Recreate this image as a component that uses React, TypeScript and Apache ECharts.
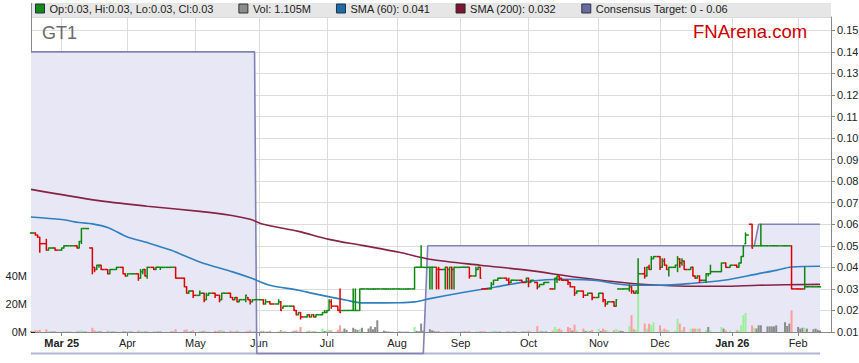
import React, { useEffect, useRef } from "react";
import * as echarts from "echarts";

type Row = [number, number, number, number, number, number]; // day, open, high, low, close, volume (M)

// ---- Daily OHLC + volume (millions), per month ----
const feb25: Row[] = [
  [17, 0.056, 0.056, 0.056, 0.056, 0.6], [18, 0.056, 0.056, 0.056, 0.056, 0.4],
  [19, 0.056, 0.056, 0.055, 0.055, 1.2], [20, 0.055, 0.055, 0.054, 0.054, 1.0],
  [21, 0.054, 0.054, 0.047, 0.051, 1.5], [24, 0.051, 0.053, 0.048, 0.048, 1.8],
  [25, 0.048, 0.049, 0.048, 0.049, 0.5], [26, 0.049, 0.049, 0.049, 0.049, 0.3],
  [27, 0.049, 0.049, 0.049, 0.049, 0.3], [28, 0.049, 0.049, 0.048, 0.048, 0.6],
];
const mar25: Row[] = [
  [3, 0.048, 0.049, 0.048, 0.049, 0.5], [4, 0.049, 0.05, 0.049, 0.05, 0.4],
  [5, 0.05, 0.05, 0.05, 0.05, 0.2], [6, 0.05, 0.05, 0.05, 0.05, 0.2],
  [7, 0.05, 0.05, 0.05, 0.05, 0.2], [10, 0.05, 0.05, 0.049, 0.049, 0.6],
  [11, 0.049, 0.052, 0.049, 0.052, 0.9], [12, 0.052, 0.058, 0.051, 0.058, 1.2],
  [13, 0.058, 0.058, 0.058, 0.058, 0.3], [14, 0.058, 0.058, 0.058, 0.058, 0.3],
  [17, 0.049, 0.049, 0.037, 0.04, 3.0], [18, 0.04, 0.04, 0.038, 0.039, 1.2],
  [19, 0.039, 0.041, 0.039, 0.041, 0.8], [20, 0.041, 0.041, 0.04, 0.041, 0.4],
  [21, 0.041, 0.041, 0.039, 0.039, 0.8], [24, 0.039, 0.039, 0.037, 0.037, 0.9],
  [25, 0.037, 0.039, 0.037, 0.039, 0.6], [26, 0.039, 0.039, 0.039, 0.039, 0.3],
  [27, 0.039, 0.039, 0.039, 0.039, 0.3], [28, 0.039, 0.04, 0.039, 0.04, 0.4],
  [31, 0.04, 0.04, 0.037, 0.037, 0.7],
];
const apr25: Row[] = [
  [1, 0.037, 0.037, 0.036, 0.036, 0.6], [2, 0.036, 0.037, 0.036, 0.037, 0.5],
  [3, 0.037, 0.037, 0.037, 0.037, 0.3], [4, 0.037, 0.037, 0.037, 0.037, 0.3],
  [7, 0.037, 0.037, 0.034, 0.035, 1.0], [8, 0.035, 0.039, 0.035, 0.038, 0.8],
  [9, 0.038, 0.039, 0.037, 0.039, 0.5], [10, 0.039, 0.039, 0.036, 0.036, 0.6],
  [11, 0.036, 0.04, 0.035, 0.04, 0.9], [14, 0.04, 0.04, 0.039, 0.039, 0.5],
  [15, 0.039, 0.04, 0.039, 0.04, 0.6], [16, 0.04, 0.04, 0.04, 0.04, 0.3],
  [17, 0.04, 0.04, 0.039, 0.04, 0.4], [22, 0.04, 0.04, 0.04, 0.04, 0.3],
  [23, 0.04, 0.04, 0.04, 0.04, 0.3], [24, 0.04, 0.04, 0.035, 0.035, 2.0],
  [28, 0.035, 0.035, 0.031, 0.031, 1.5], [29, 0.031, 0.031, 0.028, 0.028, 1.8],
  [30, 0.028, 0.029, 0.028, 0.029, 0.6],
];
const may25: Row[] = [
  [1, 0.029, 0.029, 0.029, 0.029, 0.3], [2, 0.029, 0.029, 0.026, 0.027, 1.2],
  [5, 0.027, 0.029, 0.027, 0.028, 0.7], [6, 0.028, 0.028, 0.028, 0.028, 0.4],
  [7, 0.028, 0.028, 0.024, 0.025, 1.0], [8, 0.025, 0.028, 0.025, 0.027, 0.6],
  [9, 0.027, 0.028, 0.027, 0.028, 0.4], [12, 0.028, 0.028, 0.026, 0.027, 0.8],
  [13, 0.027, 0.027, 0.027, 0.027, 0.3], [14, 0.027, 0.027, 0.024, 0.025, 1.3],
  [15, 0.025, 0.028, 0.025, 0.028, 1.5], [16, 0.028, 0.028, 0.028, 0.028, 0.4],
  [19, 0.028, 0.028, 0.026, 0.026, 1.0], [20, 0.026, 0.026, 0.025, 0.025, 0.3],
  [21, 0.025, 0.026, 0.025, 0.026, 0.5], [22, 0.026, 0.026, 0.024, 0.024, 0.9],
  [23, 0.024, 0.025, 0.024, 0.025, 0.5], [26, 0.025, 0.027, 0.024, 0.027, 0.8],
  [27, 0.026, 0.026, 0.025, 0.025, 0.6], [28, 0.025, 0.025, 0.023, 0.024, 1.2],
  [29, 0.024, 0.025, 0.024, 0.025, 0.4], [30, 0.025, 0.025, 0.025, 0.025, 0.3],
];
const jun25: Row[] = [
  [2, 0.025, 0.025, 0.025, 0.025, 0.4], [3, 0.025, 0.025, 0.023, 0.023, 0.8],
  [4, 0.023, 0.025, 0.023, 0.024, 0.5], [5, 0.024, 0.024, 0.024, 0.024, 0.3],
  [6, 0.024, 0.024, 0.023, 0.023, 0.8], [10, 0.023, 0.025, 0.023, 0.024, 0.6],
  [11, 0.024, 0.024, 0.02, 0.02, 1.5], [12, 0.021, 0.022, 0.021, 0.022, 0.6],
  [13, 0.022, 0.022, 0.022, 0.022, 0.3], [16, 0.022, 0.022, 0.022, 0.022, 0.3],
  [17, 0.022, 0.022, 0.02, 0.02, 1.0], [18, 0.02, 0.02, 0.018, 0.018, 1.2],
  [19, 0.018, 0.019, 0.018, 0.019, 0.8], [20, 0.019, 0.019, 0.016, 0.017, 3.6],
  [23, 0.017, 0.018, 0.017, 0.018, 0.8], [24, 0.018, 0.018, 0.017, 0.017, 1.0],
  [25, 0.017, 0.018, 0.017, 0.018, 0.6], [26, 0.018, 0.018, 0.017, 0.017, 0.8],
  [27, 0.017, 0.018, 0.017, 0.018, 0.5], [30, 0.018, 0.019, 0.018, 0.019, 2.4],
];
const jul25: Row[] = [
  [1, 0.019, 0.02, 0.019, 0.019, 0.8], [2, 0.019, 0.02, 0.019, 0.02, 1.0],
  [3, 0.02, 0.025, 0.02, 0.024, 1.5], [4, 0.024, 0.025, 0.021, 0.022, 1.2],
  [7, 0.022, 0.022, 0.02, 0.02, 1.5], [8, 0.02, 0.03, 0.019, 0.019, 4.8],
  [9, 0.02, 0.02, 0.02, 0.02, 1.0], [10, 0.02, 0.02, 0.02, 0.02, 2.5],
  [11, 0.02, 0.02, 0.02, 0.02, 1.5], [14, 0.02, 0.03, 0.02, 0.02, 3.0],
  [15, 0.02, 0.03, 0.02, 0.02, 2.0], [16, 0.02, 0.02, 0.02, 0.02, 1.5],
  [17, 0.02, 0.03, 0.02, 0.03, 2.0], [18, 0.03, 0.03, 0.03, 0.03, 3.0],
  [21, 0.03, 0.03, 0.03, 0.03, 2.5], [22, 0.03, 0.03, 0.03, 0.03, 4.0],
  [23, 0.03, 0.03, 0.03, 0.03, 2.0], [24, 0.03, 0.03, 0.03, 0.03, 3.5],
  [25, 0.03, 0.03, 0.03, 0.03, 8.4], [28, 0.03, 0.03, 0.03, 0.03, 1.0],
  [29, 0.03, 0.03, 0.03, 0.03, 0.5], [30, 0.03, 0.03, 0.03, 0.03, 0.3],
  [31, 0.03, 0.03, 0.03, 0.03, 0.2],
];
const aug25: Row[] = [
  [1, 0.03, 0.03, 0.03, 0.03, 0.2], [4, 0.03, 0.03, 0.03, 0.03, 0.4],
  [5, 0.03, 0.03, 0.03, 0.03, 0.3], [6, 0.03, 0.03, 0.03, 0.03, 0.2],
  [7, 0.03, 0.03, 0.03, 0.03, 0.3], [8, 0.03, 0.03, 0.03, 0.03, 0.2],
  [11, 0.03, 0.04, 0.03, 0.04, 3.6], [12, 0.04, 0.04, 0.04, 0.04, 0.8],
  [13, 0.04, 0.04, 0.04, 0.04, 0.5], [14, 0.04, 0.05, 0.04, 0.04, 6.0],
  [15, 0.04, 0.04, 0.04, 0.04, 1.0], [18, 0.04, 0.04, 0.03, 0.04, 2.0],
  [19, 0.04, 0.04, 0.03, 0.04, 1.2], [20, 0.04, 0.04, 0.04, 0.04, 0.6],
  [21, 0.04, 0.04, 0.03, 0.039, 0.6], [22, 0.039, 0.04, 0.03, 0.039, 0.4],
  [25, 0.039, 0.04, 0.03, 0.04, 0.3], [26, 0.04, 0.04, 0.03, 0.039, 0.4],
  [27, 0.039, 0.04, 0.03, 0.04, 0.3], [28, 0.04, 0.04, 0.03, 0.039, 0.3],
  [29, 0.039, 0.04, 0.03, 0.04, 0.3],
];
const sep25: Row[] = [
  [1, 0.04, 0.04, 0.04, 0.04, 0.2], [2, 0.04, 0.04, 0.04, 0.04, 0.2],
  [3, 0.04, 0.04, 0.04, 0.04, 0.3], [4, 0.04, 0.04, 0.04, 0.04, 0.2],
  [5, 0.04, 0.04, 0.035, 0.036, 0.8], [8, 0.036, 0.04, 0.036, 0.039, 0.5],
  [9, 0.039, 0.04, 0.039, 0.04, 0.4], [10, 0.04, 0.04, 0.035, 0.035, 0.7],
  [11, 0.03, 0.03, 0.03, 0.03, 0.6], [12, 0.03, 0.03, 0.03, 0.03, 0.3],
  [15, 0.03, 0.033, 0.03, 0.032, 0.5], [16, 0.032, 0.034, 0.032, 0.034, 0.8],
  [17, 0.034, 0.034, 0.034, 0.034, 0.3], [18, 0.034, 0.035, 0.034, 0.035, 0.5],
  [19, 0.035, 0.035, 0.035, 0.035, 0.3], [22, 0.035, 0.035, 0.034, 0.034, 0.4],
  [23, 0.034, 0.035, 0.032, 0.033, 0.6], [24, 0.033, 0.034, 0.033, 0.034, 0.4],
  [25, 0.034, 0.034, 0.034, 0.034, 0.3], [26, 0.034, 0.034, 0.034, 0.034, 0.3],
  [29, 0.034, 0.034, 0.033, 0.033, 0.5], [30, 0.033, 0.033, 0.033, 0.033, 0.3],
];
const oct25: Row[] = [
  [1, 0.033, 0.035, 0.033, 0.035, 0.6], [2, 0.035, 0.035, 0.031, 0.033, 1.0],
  [3, 0.033, 0.034, 0.033, 0.034, 0.5], [6, 0.033, 0.033, 0.03, 0.031, 4.2],
  [7, 0.031, 0.032, 0.031, 0.032, 0.8], [8, 0.032, 0.032, 0.032, 0.032, 0.5],
  [9, 0.032, 0.033, 0.032, 0.033, 0.7], [10, 0.033, 0.033, 0.033, 0.033, 0.4],
  [13, 0.03, 0.03, 0.03, 0.03, 1.0], [14, 0.03, 0.035, 0.03, 0.035, 3.6],
  [15, 0.035, 0.036, 0.033, 0.036, 2.0], [16, 0.036, 0.036, 0.034, 0.035, 2.4],
  [17, 0.035, 0.035, 0.034, 0.034, 1.5], [20, 0.034, 0.034, 0.032, 0.033, 3.6],
  [21, 0.033, 0.033, 0.031, 0.031, 2.8], [22, 0.031, 0.031, 0.031, 0.031, 1.0],
  [23, 0.031, 0.031, 0.027, 0.028, 5.2], [24, 0.028, 0.029, 0.028, 0.029, 1.0],
  [27, 0.029, 0.029, 0.026, 0.027, 2.4], [28, 0.027, 0.027, 0.027, 0.027, 0.8],
  [29, 0.027, 0.028, 0.027, 0.028, 1.0], [30, 0.028, 0.028, 0.028, 0.028, 0.5],
  [31, 0.028, 0.028, 0.025, 0.026, 1.5],
];
const nov25: Row[] = [
  [3, 0.026, 0.028, 0.026, 0.028, 2.4], [4, 0.028, 0.028, 0.028, 0.028, 0.6],
  [5, 0.028, 0.028, 0.024, 0.025, 2.4], [6, 0.025, 0.025, 0.022, 0.023, 1.5],
  [7, 0.023, 0.024, 0.023, 0.024, 1.0], [10, 0.024, 0.024, 0.022, 0.022, 1.2],
  [11, 0.022, 0.025, 0.022, 0.025, 2.0], [12, 0.03, 0.03, 0.03, 0.03, 1.5],
  [13, 0.03, 0.03, 0.03, 0.03, 0.8], [14, 0.03, 0.03, 0.03, 0.03, 0.6],
  [17, 0.03, 0.032, 0.029, 0.031, 4.3], [18, 0.031, 0.031, 0.028, 0.029, 12],
  [19, 0.029, 0.029, 0.028, 0.028, 2.0], [20, 0.028, 0.029, 0.028, 0.029, 1.5],
  [21, 0.028, 0.044, 0.028, 0.037, 32], [24, 0.037, 0.04, 0.035, 0.036, 6.0],
  [25, 0.036, 0.04, 0.036, 0.04, 2.4], [26, 0.04, 0.041, 0.039, 0.039, 6.0],
  [27, 0.039, 0.045, 0.039, 0.044, 4.8], [28, 0.044, 0.045, 0.044, 0.045, 7.0],
];
const dec25: Row[] = [
  [1, 0.045, 0.045, 0.039, 0.04, 4.8], [2, 0.04, 0.044, 0.04, 0.043, 1.5],
  [3, 0.043, 0.044, 0.041, 0.041, 2.4], [4, 0.041, 0.041, 0.039, 0.039, 1.5],
  [5, 0.039, 0.04, 0.036, 0.04, 1.2], [8, 0.04, 0.041, 0.04, 0.041, 1.0],
  [9, 0.041, 0.045, 0.038, 0.044, 9.5], [10, 0.044, 0.044, 0.04, 0.042, 6.0],
  [11, 0.042, 0.044, 0.041, 0.043, 1.5], [12, 0.043, 0.043, 0.039, 0.039, 3.6],
  [15, 0.039, 0.04, 0.039, 0.04, 2.4], [16, 0.04, 0.04, 0.036, 0.036, 2.4],
  [17, 0.036, 0.036, 0.035, 0.035, 2.4], [18, 0.035, 0.036, 0.035, 0.036, 2.4],
  [19, 0.036, 0.036, 0.033, 0.034, 2.4], [22, 0.034, 0.037, 0.033, 0.037, 1.5],
  [23, 0.037, 0.037, 0.036, 0.037, 3.6], [24, 0.037, 0.041, 0.037, 0.038, 1.2],
  [29, 0.038, 0.042, 0.038, 0.042, 3.6], [30, 0.042, 0.042, 0.042, 0.042, 2.4],
  [31, 0.042, 0.042, 0.04, 0.04, 1.2],
];
const jan26: Row[] = [
  [2, 0.04, 0.041, 0.04, 0.041, 1.2], [5, 0.041, 0.041, 0.04, 0.04, 1.2],
  [6, 0.04, 0.042, 0.04, 0.042, 1.2], [7, 0.042, 0.045, 0.042, 0.045, 4.8],
  [8, 0.045, 0.05, 0.045, 0.05, 12], [9, 0.051, 0.056, 0.051, 0.055, 13.6],
  [12, 0.06, 0.06, 0.049, 0.049, 4.8], [13, 0.05, 0.05, 0.05, 0.05, 3.0],
  [14, 0.05, 0.05, 0.05, 0.05, 2.5], [15, 0.05, 0.05, 0.05, 0.05, 4.8],
  [16, 0.05, 0.06, 0.05, 0.05, 4.8], [19, 0.05, 0.05, 0.05, 0.05, 4.0],
  [20, 0.05, 0.05, 0.05, 0.05, 4.0], [21, 0.05, 0.05, 0.05, 0.05, 4.0],
  [22, 0.05, 0.05, 0.05, 0.05, 4.0], [23, 0.05, 0.05, 0.05, 0.05, 4.8],
  [27, 0.05, 0.05, 0.05, 0.05, 7.0], [28, 0.05, 0.05, 0.05, 0.05, 4.3],
  [29, 0.05, 0.05, 0.05, 0.05, 6.0], [30, 0.05, 0.05, 0.03, 0.03, 15.5],
];
const feb26: Row[] = [
  [2, 0.03, 0.03, 0.03, 0.03, 3.6], [3, 0.03, 0.03, 0.03, 0.03, 2.4],
  [4, 0.03, 0.03, 0.03, 0.03, 3.0], [5, 0.03, 0.04, 0.03, 0.031, 3.0],
  [6, 0.031, 0.031, 0.031, 0.031, 2.4], [9, 0.031, 0.031, 0.031, 0.031, 2.0],
  [10, 0.031, 0.031, 0.031, 0.031, 2.4], [11, 0.031, 0.031, 0.031, 0.031, 1.5],
  [12, 0.031, 0.031, 0.031, 0.031, 1.105],
];

// ---- Moving averages and consensus target ----
const sma60: [string, number][] = [
  ["2025-02-17", 0.0634], ["2025-03-03", 0.0622], ["2025-03-11", 0.0608], ["2025-03-17", 0.0602],
  ["2025-03-24", 0.0585], ["2025-04-02", 0.0541], ["2025-04-11", 0.0515], ["2025-04-22", 0.0479],
  ["2025-05-05", 0.0425], ["2025-05-20", 0.0379], ["2025-05-29", 0.0348], ["2025-06-06", 0.0317],
  ["2025-06-19", 0.0294], ["2025-06-26", 0.0278], ["2025-07-11", 0.0247], ["2025-07-18", 0.0235],
  ["2025-08-04", 0.0236], ["2025-08-11", 0.024], ["2025-08-18", 0.0255], ["2025-09-02", 0.0283],
  ["2025-09-17", 0.0309], ["2025-10-02", 0.0335], ["2025-10-17", 0.0345], ["2025-10-27", 0.0343],
  ["2025-11-03", 0.0338], ["2025-11-10", 0.0325], ["2025-11-17", 0.0317], ["2025-12-01", 0.0317],
  ["2025-12-15", 0.0325], ["2025-12-30", 0.034], ["2026-01-15", 0.0371], ["2026-01-23", 0.0386],
  ["2026-01-30", 0.0402], ["2026-02-12", 0.0405],
];
const sma200: [string, number][] = [
  ["2025-02-17", 0.0762], ["2025-03-19", 0.0711], ["2025-04-11", 0.0684], ["2025-05-05", 0.066],
  ["2025-05-19", 0.0642], ["2025-05-28", 0.0623], ["2025-06-03", 0.06], ["2025-06-19", 0.0567],
  ["2025-07-03", 0.053], ["2025-07-18", 0.0502], ["2025-08-04", 0.047], ["2025-08-18", 0.0438],
  ["2025-09-10", 0.041], ["2025-10-02", 0.0386], ["2025-10-24", 0.0354], ["2025-11-17", 0.0326],
  ["2025-12-01", 0.0317], ["2025-12-15", 0.0312], ["2025-12-30", 0.0312], ["2026-01-15", 0.0317],
  ["2026-02-12", 0.0321],
];
const consensusHigh: [string, number][] = [
  ["2025-02-17", 0.14], ["2025-05-30", 0.14], ["2025-05-31", 0], ["2025-08-15", 0],
  ["2025-08-17", 0.05], ["2026-01-13", 0.05], ["2026-01-15", 0.06], ["2026-02-12", 0.06],
];
const consensusLow: [string, number][] = [["2025-02-17", 0], ["2026-02-12", 0]];

// ---- Axis ticks / labels ----
const monthTickDates = [
  "2025-03-03", "2025-04-02", "2025-05-03", "2025-06-01", "2025-07-02", "2025-08-03",
  "2025-09-01", "2025-10-02", "2025-11-03", "2025-12-01", "2026-01-03", "2026-02-02",
];
const monthLabels = ["Mar 25", "Apr", "May", "Jun", "Jul", "Aug", "Sep", "Oct", "Nov", "Dec", "Jan 26", "Feb"];
const yearLabels = ["Mar 25", "Jan 26"];
const volTicks = [0, 20e6, 40e6];
const legendNames = [
  "Op:0.03, Hi:0.03, Lo:0.03, Cl:0.03",
  "Vol: 1.105M",
  "SMA (60): 0.041",
  "SMA (200): 0.032",
  "Consensus Target: 0 - 0.06",
];

const FONT = "'Liberation Sans', Arial, Helvetica, sans-serif";
const GREEN = "#0b870b";
const RED = "#dc0000";

const toTime = (s: string) => {
  const [y, m, d] = s.split("-").map(Number);
  return Date.UTC(y, m - 1, d);
};

export default function App() {
  const ref = useRef<HTMLDivElement>(null);

  useEffect(() => {
    document.body.style.margin = "0";
    if (!ref.current) return;
    const chart = echarts.init(ref.current, undefined, { renderer: "svg" });

    const blocks: [number, number, Row[]][] = [
      [2025, 2, feb25], [2025, 3, mar25], [2025, 4, apr25], [2025, 5, may25], [2025, 6, jun25],
      [2025, 7, jul25], [2025, 8, aug25], [2025, 9, sep25], [2025, 10, oct25], [2025, 11, nov25],
      [2025, 12, dec25], [2026, 1, jan26], [2026, 2, feb26],
    ];
    const bars: { t: number; o: number; h: number; l: number; c: number; v: number }[] = [];
    blocks.forEach(([y, m, rows]) =>
      rows.forEach(([d, o, h, l, c, v]) => bars.push({ t: Date.UTC(y, m - 1, d), o, h, l, c, v }))
    );
    const times = bars.map((b) => b.t);
    const up: boolean[] = [];
    const volColor: string[] = [];
    bars.forEach((b, i) => {
      if (i === 0) {
        up.push(true);
        volColor.push("#8c8c8c");
        return;
      }
      const pc = bars[i - 1].c;
      up.push(b.c > pc ? true : b.c < pc ? false : up[i - 1]);
      volColor.push(b.c > pc ? "#9def9d" : b.c < pc ? "#ff9c9c" : "#8c8c8c");
    });
    const n = bars.length;
    const monthTicks = monthTickDates.map(toTime);

    const option: any = {
      animation: false,
      textStyle: { fontFamily: FONT },
      grid: { left: 31, right: 28, top: 17, bottom: 31, containLabel: false, outerBoundsMode: "none" },
      legend: {
        top: 3,
        left: 35,
        padding: 0,
        itemWidth: 9,
        itemHeight: 9,
        itemGap: 25,
        icon: "rect",
        selectedMode: false,
        z: 10,
        textStyle: { fontSize: 11, color: "#222", fontFamily: FONT },
        data: [
          { name: legendNames[0], itemStyle: { color: "#138a13", borderColor: "#234", borderWidth: 1 } },
          { name: legendNames[1], itemStyle: { color: "#8c8c8c", borderColor: "#333", borderWidth: 1 } },
          { name: legendNames[2], itemStyle: { color: "#1f6aa8", borderColor: "#234", borderWidth: 1 } },
          { name: legendNames[3], itemStyle: { color: "#7a1535", borderColor: "#322", borderWidth: 1 } },
          { name: legendNames[4], itemStyle: { color: "#6a6aa0", borderColor: "#334", borderWidth: 1 } },
        ],
      },
      graphic: [
        { type: "rect", shape: { x: 31, y: 3, width: 800, height: 14 }, style: { fill: "#e6e6e6" }, z: 0, silent: true },
        { type: "line", shape: { x1: 31.5, y1: 3, x2: 31.5, y2: 17 }, style: { stroke: "#888", lineWidth: 1 }, z: 1 },
        {
          type: "text", x: 42, y: 33, z: 20,
          style: { text: "GT1", fontSize: 18, fontFamily: FONT, fill: "#6a6a6a", verticalAlign: "middle" },
        },
        {
          type: "text", x: 693, y: 31, z: 20,
          style: { text: "FNArena.com", fontSize: 18.5, fontFamily: FONT, fill: "#cc0000", verticalAlign: "middle" },
        },
      ],
      xAxis: {
        type: "value",
        min: Date.UTC(2025, 1, 17),
        max: Date.UTC(2026, 1, 17),
        axisLine: { show: true, lineStyle: { color: "#888", width: 1 } },
        axisTick: { show: true, length: 4, customValues: monthTicks, lineStyle: { color: "#888" } },
        axisLabel: {
          customValues: monthTicks,
          margin: 5,
          fontSize: 11,
          color: "#222",
          fontFamily: FONT,
          formatter: (v: number) => {
            const idx = monthTicks.findIndex((t) => Math.abs(t - v) < 3600000);
            if (idx < 0) return "";
            const lab = monthLabels[idx];
            return yearLabels.includes(lab) ? "{b|" + lab + "}" : lab;
          },
          rich: { b: { fontWeight: "bold", fontSize: 11, fontFamily: FONT, color: "#222" } },
        },
        splitLine: { show: true, lineStyle: { color: "#dcdcdc", width: 1 } },
      },
      yAxis: [
        {
          type: "value",
          position: "right",
          min: 0.01,
          max: 0.1562,
          interval: 0.01,
          axisLine: { show: true, lineStyle: { color: "#888" } },
          axisTick: { show: true, length: 4, lineStyle: { color: "#888" } },
          axisLabel: {
            margin: 6,
            fontSize: 11,
            color: "#222",
            fontFamily: FONT,
            showMaxLabel: false,
            formatter: (v: number) => v.toFixed(2),
          },
          splitLine: { show: true, lineStyle: { color: "#dcdcdc", width: 1 } },
        },
        {
          type: "value",
          position: "left",
          min: 0,
          max: 225e6,
          interval: 20e6,
          axisLine: { show: true, lineStyle: { color: "#888" } },
          axisTick: { show: true, inside: true, length: 4, customValues: volTicks, lineStyle: { color: "#222" } },
          axisLabel: {
            customValues: volTicks,
            margin: 4,
            fontSize: 11,
            color: "#222",
            fontFamily: FONT,
            formatter: (v: number) => Math.round(v / 1e6) + "M",
          },
          splitLine: { show: false },
        },
      ],
      series: [
        {
          name: "consensus-band",
          type: "line",
          yAxisIndex: 0,
          data: consensusHigh.map(([d, v]) => [toTime(d), v]),
          showSymbol: false,
          lineStyle: { width: 0 },
          areaStyle: { color: "#e7e7f6", opacity: 1 },
          clip: true,
          z: 1,
          silent: true,
        },
        {
          name: "consensus-low",
          type: "line",
          yAxisIndex: 0,
          data: consensusLow.map(([d, v]) => [toTime(d), v]),
          showSymbol: false,
          lineStyle: { width: 2, color: "#b4b4d4" },
          clip: false,
          z: 2,
          silent: true,
        },
        {
          name: legendNames[4],
          type: "line",
          yAxisIndex: 0,
          color: "#6a6aa0",
          data: consensusHigh.map(([d, v]) => [toTime(d), v]),
          showSymbol: false,
          lineStyle: { width: 1.6, color: "#8282b6" },
          clip: false,
          z: 3,
          silent: true,
        },
        {
          name: legendNames[1],
          type: "bar",
          yAxisIndex: 1,
          barWidth: 2,
          color: "#8c8c8c",
          data: bars.map((b, i) => ({ value: [b.t, b.v * 1e6], itemStyle: { color: volColor[i] } })),
          z: 4,
          silent: true,
        },
        {
          name: legendNames[3],
          type: "line",
          yAxisIndex: 0,
          color: "#7a1535",
          smooth: 0.3,
          data: sma200.map(([d, v]) => [toTime(d), v]),
          showSymbol: false,
          lineStyle: { width: 1.6, color: "#862243" },
          z: 5,
          silent: true,
        },
        {
          name: legendNames[2],
          type: "line",
          yAxisIndex: 0,
          color: "#1f6aa8",
          smooth: 0.3,
          data: sma60.map(([d, v]) => [toTime(d), v]),
          showSymbol: false,
          lineStyle: { width: 1.6, color: "#2f80c0" },
          z: 5,
          silent: true,
        },
        {
          name: legendNames[0],
          type: "custom",
          yAxisIndex: 0,
          color: GREEN,
          itemStyle: { color: GREEN },
          encode: { x: 0, y: [1, 2, 3, 4] },
          data: bars.map((b) => [b.t, b.o, b.h, b.l, b.c]),
          z: 6,
          silent: true,
          renderItem: (params: any, api: any) => {
            const i = params.dataIndex;
            const t = api.value(0);
            const p = api.coord([t, api.value(1)]);
            const x = p[0];
            const yO = p[1];
            const yH = api.coord([t, api.value(2)])[1];
            const yL = api.coord([t, api.value(3)])[1];
            const yC = api.coord([t, api.value(4)])[1];
            const xp = i > 0 ? api.coord([times[i - 1], 0.05])[0] : null;
            const xn = i < n - 1 ? api.coord([times[i + 1], 0.05])[0] : null;
            const left = xp != null ? (x + xp) / 2 : x - ((xn as number) - x) / 2;
            const right = xn != null ? (x + xn) / 2 : x + (x - (xp as number)) / 2;
            const style = { stroke: up[i] ? GREEN : RED, lineWidth: 1.5, fill: "none" };
            return {
              type: "group",
              children: [
                { type: "line", shape: { x1: x, y1: yH - 0.5, x2: x, y2: yL + 0.5 }, style },
                { type: "line", shape: { x1: left, y1: yO, x2: x, y2: yO }, style },
                { type: "line", shape: { x1: x, y1: yC, x2: right, y2: yC }, style },
              ],
            };
          },
        },
      ],
    };

    chart.setOption(option);
    return () => chart.dispose();
  }, []);

  return <div ref={ref} style={{ width: 859, height: 363 }} />;
}
